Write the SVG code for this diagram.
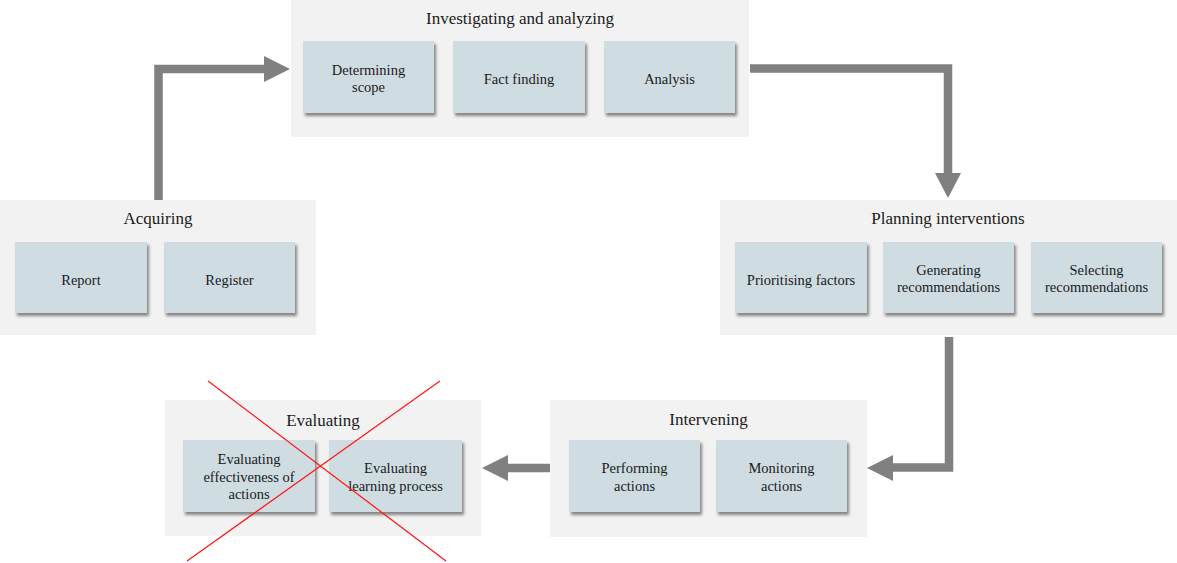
<svg xmlns="http://www.w3.org/2000/svg" width="1177" height="563" viewBox="0 0 1177 563">
  <style>
    .panel { fill: #f2f2f2; }
    .box { fill: #cfdde3; filter: url(#shadow); }
    .title { font-family: 'Liberation Serif', 'DejaVu Serif', serif; font-size: 17px; fill: #1a1a1a; text-anchor: middle; }
    .label { font-family: 'Liberation Serif', 'DejaVu Serif', serif; font-size: 14.5px; fill: #1a1a1a; text-anchor: middle; }
    .flow { fill: none; stroke: #808080; stroke-width: 8.5; stroke-linejoin: miter; }
    .head { fill: #808080; }
    .strike { stroke: #ff1a1a; stroke-width: 1.3; }
  </style>
  <defs>
    <filter id="shadow" x="-10%" y="-10%" width="130%" height="140%">
      <feDropShadow dx="2" dy="3" stdDeviation="1.6" flood-color="#000" flood-opacity="0.45"/>
    </filter>
  </defs>

  <rect width="1177" height="563" fill="#ffffff"/>

  <!-- Phase: Investigating and analyzing -->
  <g id="investigating">
    <rect class="panel" x="291" y="0" width="458" height="137"/>
    <text class="title" x="520" y="24">Investigating and analyzing</text>
    <g id="determining-scope">
      <rect class="box" x="303" y="41" width="131" height="72"/>
      <text class="label" x="368.5" y="74.5">Determining</text>
      <text class="label" x="368.5" y="92">scope</text>
    </g>
    <g id="fact-finding">
      <rect class="box" x="453" y="41" width="132" height="72"/>
      <text class="label" x="519" y="83.5">Fact finding</text>
    </g>
    <g id="analysis">
      <rect class="box" x="604" y="41" width="131" height="72"/>
      <text class="label" x="669.5" y="83.5">Analysis</text>
    </g>
  </g>

  <!-- Phase: Acquiring -->
  <g id="acquiring">
    <rect class="panel" x="0" y="200" width="316" height="135"/>
    <text class="title" x="158" y="224">Acquiring</text>
    <g id="report">
      <rect class="box" x="15" y="242" width="132" height="71"/>
      <text class="label" x="81" y="284.5">Report</text>
    </g>
    <g id="register">
      <rect class="box" x="164" y="242" width="131" height="71"/>
      <text class="label" x="229.5" y="284.5">Register</text>
    </g>
  </g>

  <!-- Phase: Planning interventions -->
  <g id="planning">
    <rect class="panel" x="720" y="200" width="457" height="135"/>
    <text class="title" x="948" y="224">Planning interventions</text>
    <g id="prioritising">
      <rect class="box" x="735" y="242" width="132" height="71"/>
      <text class="label" x="801" y="284.5">Prioritising factors</text>
    </g>
    <g id="generating">
      <rect class="box" x="883" y="242" width="131" height="71"/>
      <text class="label" x="948.5" y="274.5">Generating</text>
      <text class="label" x="948.5" y="292">recommendations</text>
    </g>
    <g id="selecting">
      <rect class="box" x="1031" y="242" width="131" height="71"/>
      <text class="label" x="1096.5" y="274.5">Selecting</text>
      <text class="label" x="1096.5" y="292">recommendations</text>
    </g>
  </g>

  <!-- Phase: Intervening -->
  <g id="intervening">
    <rect class="panel" x="550" y="400" width="317" height="137"/>
    <text class="title" x="708.5" y="425">Intervening</text>
    <g id="performing">
      <rect class="box" x="569" y="440" width="131" height="72"/>
      <text class="label" x="634.5" y="473">Performing</text>
      <text class="label" x="634.5" y="490.5">actions</text>
    </g>
    <g id="monitoring">
      <rect class="box" x="716" y="440" width="131" height="72"/>
      <text class="label" x="781.5" y="473">Monitoring</text>
      <text class="label" x="781.5" y="490.5">actions</text>
    </g>
  </g>

  <!-- Phase: Evaluating -->
  <g id="evaluating">
    <rect class="panel" x="165" y="400" width="316" height="136"/>
    <text class="title" x="323" y="426">Evaluating</text>
    <g id="evaluating-effectiveness">
      <rect class="box" x="183" y="440" width="132" height="72"/>
      <text class="label" x="249" y="464">Evaluating</text>
      <text class="label" x="249" y="481.5">effectiveness of</text>
      <text class="label" x="249" y="499">actions</text>
    </g>
    <g id="evaluating-learning">
      <rect class="box" x="329" y="440" width="133" height="72"/>
      <text class="label" x="395.5" y="473">Evaluating</text>
      <text class="label" x="395.5" y="490.5">learning process</text>
    </g>
  </g>

  <!-- Flow arrows between phases -->
  <g id="connectors">
    <path class="flow" d="M158.5,200 V69 H265"/>
    <polygon class="head" points="264,56 290,69 264,82"/>

    <path class="flow" d="M750,68.5 H948 V174"/>
    <polygon class="head" points="935,173 961,173 948,198"/>

    <path class="flow" d="M949,337 V467.5 H892"/>
    <polygon class="head" points="893,455 893,481 867,468"/>

    <path class="flow" d="M550,468 H507"/>
    <polygon class="head" points="508,455 508,481 482,468"/>
  </g>

  <!-- Cross drawn over the Evaluating phase -->
  <g id="cross">
    <line class="strike" x1="208" y1="381" x2="446" y2="561"/>
    <line class="strike" x1="440" y1="381" x2="187" y2="561"/>
  </g>
</svg>
